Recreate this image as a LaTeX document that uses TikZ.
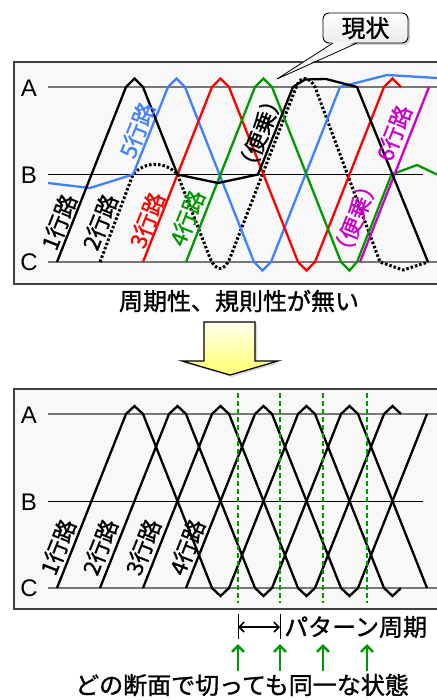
\documentclass[tikz,border=0pt]{standalone}
\usepackage{fontspec}
\setmainfont{Noto Sans CJK JP}[FakeBold=1.2]
\newfontfamily\latinf{Liberation Sans}
\usetikzlibrary{arrows.meta,shadows}
\definecolor{lnblue}{RGB}{64,128,255}
\definecolor{lnred}{RGB}{255,0,0}
\definecolor{lngreen}{RGB}{0,153,0}
\definecolor{lnmag}{RGB}{204,0,204}
\definecolor{panelbg}{RGB}{248,248,248}
\definecolor{levgray}{RGB}{120,120,120}
\begin{document}
\begin{tikzpicture}[x=1pt,y=-1pt,
  panel/.style={draw=black!75, fill=panelbg, line width=1.2pt},
  lev/.style={draw=levgray, line width=1.5pt},
  levb/.style={draw=black, line width=0.8pt},
  train/.style={line width=2.3pt, line join=miter},
  dotline/.style={line width=3pt, dash pattern=on 2.5pt off 2pt},
  lbl/.style={font=\fontsize{22.5}{22.5}\selectfont, rotate=68.5, inner sep=0pt},
  abc/.style={font=\latinf\fontsize{24}{24}\selectfont, inner sep=0pt},
  big/.style={font=\fontsize{24}{24}\selectfont, inner sep=0pt},
  gdash/.style={draw=lngreen, line width=2pt, dash pattern=on 5pt off 3pt},
  garrow/.style={draw=lngreen, line width=2.6pt, -{Straight Barb[length=6pt,width=12pt]}}
]
\useasboundingbox (0,0) rectangle (436,700);
\fill[white] (0,0) rectangle (436,700);

% ---------- top panel ----------
\path[panel] (14,62) rectangle (440,284);
\draw[lev] (48,87) -- (437,87);
\draw[lev] (48,262) -- (437,262);
\draw[levb] (48,174.5) -- (423,174.5);
\node[abc] (tA) at (29,88) {A};
\node[abc] (tB) at (29,175) {B};
\node[abc] (tC) at (29,262) {C};

% dotted train 2
\draw[dotline] (100,262) -- (133,174.5) .. controls (145,161) and (165,161) .. (177.5,174.5)
  -- (210,258) .. controls (216,272) and (224,272) .. (230,258)
  -- (297,85) .. controls (301,76) and (309,76) .. (315,87)
  -- (380,262) -- (403,270) -- (428,262);
% blue
\draw[train, lnblue] (48,183) -- (90,188) -- (133,174.5) -- (168,87) -- (176.5,78.5) -- (185,87)
  -- (254,262) -- (262.5,270.5) -- (271,262) -- (340,87) -- (387,75) -- (437,78);
% red
\draw[train, lnred] (143,262) -- (212,87) -- (220.5,78.5) -- (229,87) -- (298,262) -- (306.5,270.5)
  -- (315,262) -- (384,87) -- (392.5,78.5) -- (401,87);
% green
\draw[train, lngreen] (186,262) -- (255,87) -- (263.5,78.5) -- (272,87) -- (341,262) -- (349.5,270.5)
  -- (357,262) -- (391.5,174.5) -- (417,165) -- (437,174.5);
% magenta
\draw[train, lnmag] (360,262) -- (429,87);
% black train 1
\draw[train, black] (57,262) -- (126,87) -- (134.5,78.5) -- (143,87) -- (177.5,174.5) -- (218,183)
  -- (258,174.5) -- (293,87) -- (305,79.5) -- (326,79) -- (357,87) -- (428,262);

\node[lbl] (t1) at (59,222) {1行路};
\node[lbl] (t2) at (100,222) {2行路};
\node[lbl, lnred] (t3) at (147,220) {3行路};
\node[lbl, lngreen] (t4) at (187,218) {4行路};
\node[lbl, lnblue] (t5) at (137,130) {5行路};
\node[lbl] (tb1) at (260,133) {（便乗）};
\node[lbl, lnmag] (tb2) at (355,218) {（便乗）};
\node[lbl, lnmag] (t6) at (394,133) {6行路};

% callout
\node[draw=black, line width=0.9pt, rounded corners=6pt, top color=white, bottom color=black!8,
  minimum width=85pt, minimum height=30pt, inner sep=0pt,
  drop shadow={shadow xshift=2pt, shadow yshift=-2pt, opacity=0.35},
  font=\fontsize{24}{24}\selectfont] (genjo) at (365.5,28) {現状};
\coordinate (tip) at (277,79);
\fill[black!4] (334,41.3) -- (tip) -- (356,41.3) -- cycle;
\draw[line width=0.8pt] (333,43) -- (tip) -- (357,43);

\node[big] (ttl) at (239,301) {周期性、規則性が無い};

% yellow arrow
\draw[line width=1.2pt, top color={rgb,255:red,255;green,255;blue,235}, bottom color={rgb,255:red,255;green,255;blue,110},
  drop shadow={shadow xshift=2pt, shadow yshift=-2pt, opacity=0.3}]
  (204,322) -- (255,322) -- (255,361) -- (278,361) -- (230,375) -- (182,361) -- (204,361) -- cycle;

% ---------- bottom panel ----------
\path[panel] (14,389) rectangle (440,609);
\draw[lev] (48,414) -- (437,414);
\draw[lev] (48,588) -- (437,588);
\draw[levb] (48,501) -- (423,501);
\node[abc] (bA) at (29,415) {A};
\node[abc] (bB) at (29,502) {B};
\node[abc] (bC) at (29,588) {C};

\draw[train] (57,588) -- (126,414) -- (134.5,406) -- (143,414) -- (212,588) -- (220.5,596) -- (229,588)
  -- (298,414) -- (306.5,406) -- (315,414) -- (384,588) -- (392.5,596) -- (401,588);
\draw[train] (100,588) -- (169,414) -- (177.5,406) -- (186,414) -- (255,588) -- (263.5,596) -- (272,588)
  -- (341,414) -- (349.5,406) -- (358,414) -- (427,588);
\draw[train] (143,588) -- (212,414) -- (220.5,406) -- (229,414) -- (298,588) -- (306.5,596) -- (315,588)
  -- (384,414) -- (392.5,406) -- (401,414);
\draw[train] (186,588) -- (255,414) -- (263.5,406) -- (272,414) -- (341,588) -- (349.5,596) -- (358,588)
  -- (427,414);

\node[lbl] (b1) at (58,547) {1行路};
\node[lbl] (b2) at (100,547) {2行路};
\node[lbl] (b3) at (143,547) {3行路};
\node[lbl] (b4) at (187,547) {4行路};

\foreach \x/\n in {238/g1,280/g2,323/g3,367/g4}{
  \draw[gdash] (\x,393) -- (\x,603);
  \coordinate (\n top) at (\x,644);
  \coordinate (\n bot) at (\x,671);
  \draw[garrow] (\n bot) -- (\n top);
}
\coordinate (p1) at (238,627);
\coordinate (p2) at (280,627);
\draw[line width=0.8pt] (238,614) -- (238,639);
\draw[line width=0.8pt] (280,614) -- (280,639);
\draw[line width=1.6pt, {Straight Barb[length=5pt,width=10pt]}-{Straight Barb[length=5pt,width=10pt]}] (p1) -- (p2);
\node[big, anchor=west] (per) at (284,627) {パターン周期};
\node[big] (same) at (242,685) {どの断面で切っても同一な状態};
\end{tikzpicture}
\end{document}
